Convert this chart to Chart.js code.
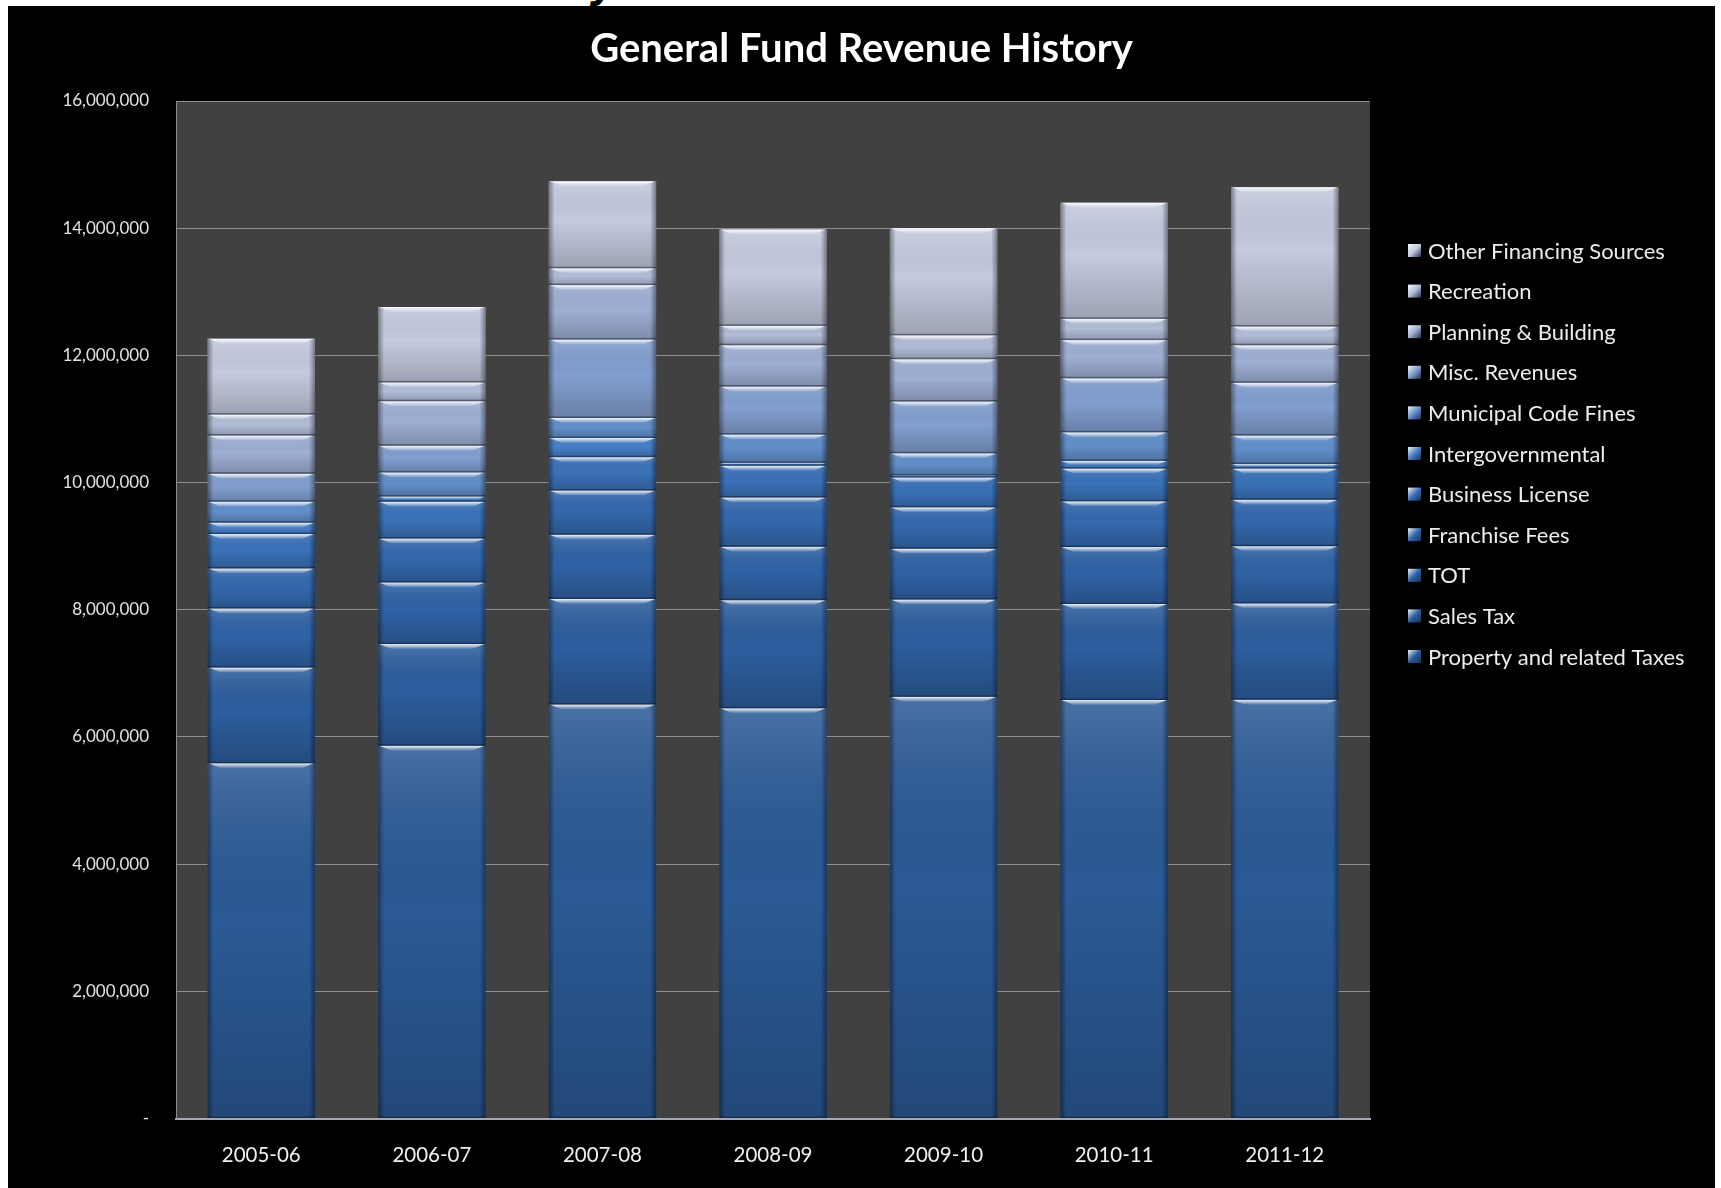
<!DOCTYPE html>
<html>
<head>
<meta charset="utf-8">
<title>General Fund Revenue History</title>
<script src="https://cdn.jsdelivr.net/npm/chart.js@4.4.1/dist/chart.umd.min.js"></script>
<style>
  html, body { margin: 0; padding: 0; background: #fff; width: 1721px; height: 1188px; overflow: hidden; }
  #strip { position: absolute; left: 0; top: 0; width: 1721px; height: 6px; overflow: hidden; }
  #strip span { position: absolute; left: 590px; top: -37px; font: italic bold 40px "DejaVu Sans", sans-serif; line-height: 40px; color: #000; }
  #frame { position: absolute; left: 8px; top: 6px; width: 1707px; height: 1182px; background: #000; }
  #frame canvas { display: block; }
</style>
</head>
<body>
<div id="strip"><span>y</span></div>
<div id="frame"><canvas id="revenueChart" width="1707" height="1182"></canvas></div>
<script>
const years = ['2005-06', '2006-07', '2007-08', '2008-09', '2009-10', '2010-11', '2011-12'];

// revenue by source, dollars, stacked bottom to top
const propertyTaxes   = [5585000, 5860000, 6510000, 6450000, 6630000, 6580000, 6585000];
const salesTax        = [1505000, 1600000, 1660000, 1700000, 1530000, 1510000, 1515000];
const tot             = [930000, 970000, 1010000, 840000, 800000, 895000, 900000];
const franchiseFees   = [630000, 690000, 695000, 775000, 650000, 720000, 730000];
const businessLicense = [540000, 580000, 525000, 500000, 470000, 515000, 490000];
const intergovernmental = [180000, 80000, 300000, 45000, 30000, 120000, 70000];
const codeFines       = [330000, 380000, 315000, 445000, 350000, 450000, 450000];
const miscRevenues    = [440000, 420000, 1235000, 755000, 815000, 850000, 830000];
const planningBuilding = [600000, 700000, 855000, 650000, 665000, 600000, 590000];
const recreation      = [330000, 295000, 265000, 305000, 375000, 335000, 295000];
const otherFinancing  = [1190000, 1185000, 1370000, 1515000, 1685000, 1825000, 2190000];

const yTicks = [0, 2000000, 4000000, 6000000, 8000000, 10000000, 12000000, 14000000, 16000000];

const series = [
  ['Property and related Taxes', propertyTaxes, '#2b5a96'],
  ['Sales Tax', salesTax, '#2d5e9e'],
  ['TOT', tot, '#3063a6'],
  ['Franchise Fees', franchiseFees, '#3469ae'],
  ['Business License', businessLicense, '#3a72b9'],
  ['Intergovernmental', intergovernmental, '#4680c8'],
  ['Municipal Code Fines', codeFines, '#628fcb'],
  ['Misc. Revenues', miscRevenues, '#829fd0'],
  ['Planning & Building', planningBuilding, '#9eafd4'],
  ['Recreation', recreation, '#b3bdd8'],
  ['Other Financing Sources', otherFinancing, '#c4cadf']
];

const FONT = 'Lato, "Open Sans", sans-serif';

// dark plot background behind the grid
const plotBackground = {
  id: 'plotBackground',
  beforeDraw(chart) {
    const { ctx, chartArea: a } = chart;
    ctx.save();
    ctx.fillStyle = '#414141';
    ctx.fillRect(a.left, a.top, a.right - a.left, a.bottom - a.top);
    ctx.restore();
  }
};

// glassy bevel on every stacked segment
const bevel = {
  id: 'bevel',
  afterDatasetsDraw(chart) {
    const ctx = chart.ctx;
    chart.data.datasets.forEach((ds, i) => {
      const meta = chart.getDatasetMeta(i);
      meta.data.forEach(bar => {
        const { x, y, base, width } = bar.getProps(['x', 'y', 'base', 'width'], true);
        const top = Math.min(y, base), bottom = Math.max(y, base);
        const h = bottom - top;
        if (h < 1) return;
        const left = x - width / 2, right = x + width / 2;
        ctx.save();
        let g = ctx.createLinearGradient(0, top, 0, bottom);
        g.addColorStop(0, 'rgba(255,255,255,0.14)');
        g.addColorStop(0.45, 'rgba(0,0,0,0)');
        g.addColorStop(1, 'rgba(0,0,0,0.2)');
        ctx.fillStyle = g;
        ctx.fillRect(left, top, width, h);

        const e = 6;
        g = ctx.createLinearGradient(left, 0, left + e, 0);
        g.addColorStop(0, 'rgba(0,0,0,0.4)');
        g.addColorStop(1, 'rgba(0,0,0,0)');
        ctx.fillStyle = g;
        ctx.fillRect(left, top, e, h);
        g = ctx.createLinearGradient(right, 0, right - e, 0);
        g.addColorStop(0, 'rgba(0,0,0,0.4)');
        g.addColorStop(1, 'rgba(0,0,0,0)');
        ctx.fillStyle = g;
        ctx.fillRect(right - e, top, e, h);

        const hh = Math.min(5, h / 2);
        g = ctx.createLinearGradient(0, top, 0, top + hh);
        g.addColorStop(0, 'rgba(255,255,255,0.9)');
        g.addColorStop(1, 'rgba(255,255,255,0.05)');
        ctx.fillStyle = g;
        ctx.beginPath();
        ctx.moveTo(left + 1, top);
        ctx.lineTo(right - 1, top);
        ctx.lineTo(right - 1 - hh * 2.5, top + hh);
        ctx.lineTo(left + 1 + hh * 2.5, top + hh);
        ctx.closePath();
        ctx.fill();

        ctx.fillStyle = 'rgba(10,20,40,0.45)';
        ctx.fillRect(left, bottom - 1.5, width, 1.5);
        ctx.restore();
      });
    });
  }
};

// legend column on the right, top item is the top of the stack
const sideLegend = {
  id: 'sideLegend',
  afterDraw(chart) {
    const ctx = chart.ctx;
    const x0 = 1400, y0 = 244.5, step = 40.6, box = 13;
    ctx.save();
    ctx.font = '22px ' + FONT;
    ctx.textBaseline = 'middle';
    ctx.textAlign = 'left';
    const items = chart.data.datasets.slice().reverse();
    items.forEach((ds, k) => {
      const cy = y0 + k * step;
      const g = ctx.createLinearGradient(x0, cy - box / 2, x0 + box, cy + box / 2);
      g.addColorStop(0, '#f2f4fa');
      g.addColorStop(0.5, ds.backgroundColor);
      g.addColorStop(1, '#1e3050');
      ctx.fillStyle = g;
      ctx.fillRect(x0, cy - box / 2, box, box);
      ctx.fillStyle = '#ececec';
      ctx.fillText(ds.label, x0 + 20, cy + 1);
    });
    ctx.restore();
  }
};

new Chart(document.getElementById('revenueChart'), {
  type: 'bar',
  data: {
    labels: years,
    datasets: series.map(([label, data, color]) => ({
      label,
      data,
      backgroundColor: color,
      borderWidth: 0,
      categoryPercentage: 0.63,
      barPercentage: 1
    }))
  },
  options: {
    responsive: false,
    animation: false,
    layout: { padding: 0 },
    plugins: {
      legend: { display: false },
      tooltip: { enabled: false },
      title: {
        display: true,
        text: 'General Fund Revenue History',
        color: '#ffffff',
        font: { family: FONT, size: 40, weight: 'bold', lineHeight: 1.2 },
        padding: { top: 19, bottom: 28 }
      }
    },
    scales: {
      x: {
        stacked: true,
        grid: { display: false, drawTicks: false },
        border: { display: true, color: '#a3a8b2', width: 2 },
        ticks: { color: '#f0f0f0', font: { family: FONT, size: 20.5 }, padding: 25 },
        afterFit(scale) { scale.height = 69.5; }
      },
      y: {
        stacked: true,
        min: 0,
        max: 16000000,
        afterBuildTicks(scale) { scale.ticks = yTicks.map(v => ({ value: v })); },
        grid: { color: '#8e8e8e', lineWidth: 1, drawTicks: false },
        border: { display: true, color: '#8e8e8e' },
        ticks: {
          color: '#e2e2e2',
          font: { family: FONT, size: 17 },
          padding: 27,
          callback: v => v === 0 ? '-' : v.toLocaleString('en-US')
        },
        afterFit(scale) { scale.width = 168; }
      },
      // empty axis that keeps the legend column clear of the bars
      legendSpace: {
        position: 'right',
        grid: { display: false, drawTicks: false },
        border: { display: false },
        ticks: { display: false },
        afterFit(scale) { scale.width = 345; }
      }
    }
  },
  plugins: [plotBackground, bevel, sideLegend]
});
</script>
</body>
</html>
